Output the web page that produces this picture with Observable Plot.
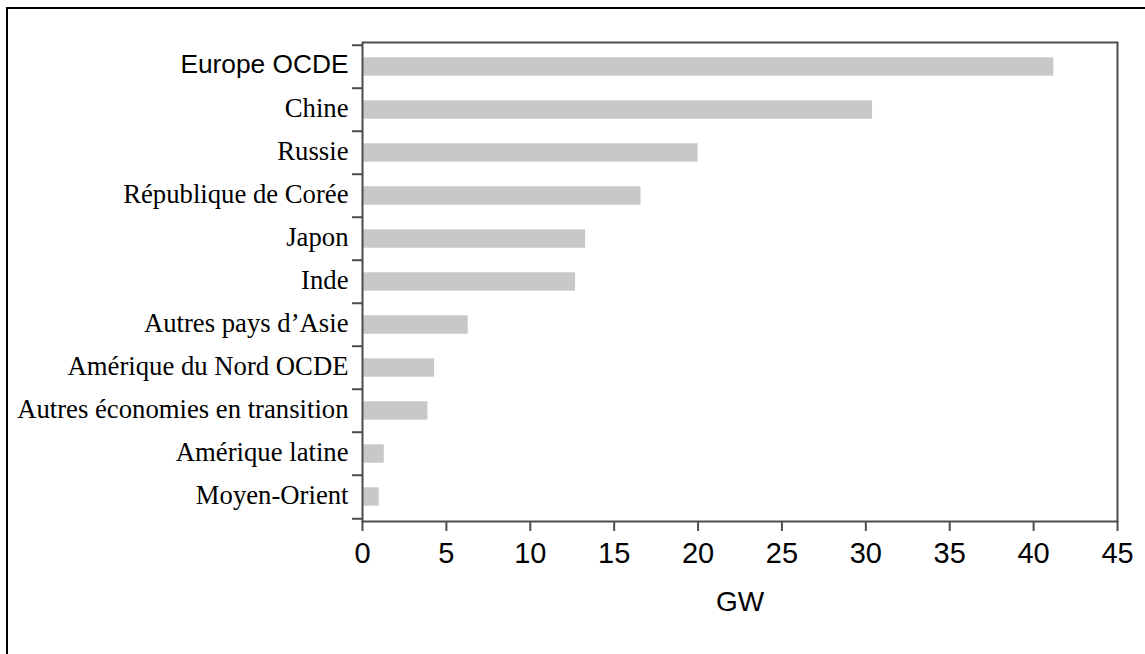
<!DOCTYPE html>
<html>
<head>
<meta charset="utf-8">
<script src="https://cdn.jsdelivr.net/npm/d3@7"></script>
<script src="https://cdn.jsdelivr.net/npm/@observablehq/plot@0.6"></script>
<style>
  html, body { margin: 0; padding: 0; background: #fff; }
  #wrap { position: relative; width: 1145px; height: 654px; overflow: hidden; }
  #chart { position: absolute; left: 0; top: 0; }
  #border { position: absolute; left: 6px; top: 7px; width: 1200px; height: 700px;
            border-left: 2px solid #000; border-top: 2px solid #000; pointer-events: none; }
</style>
</head>
<body>
<div id="wrap"><div id="chart"></div><div id="border"></div></div>
<script>
const categories = [
  "Europe OCDE", "Chine", "Russie", "République de Corée", "Japon", "Inde",
  "Autres pays d’Asie", "Amérique du Nord OCDE", "Autres économies en transition",
  "Amérique latine", "Moyen-Orient"
];
const values = [41.2, 30.4, 20.0, 16.6, 13.3, 12.7, 6.3, 4.3, 3.9, 1.3, 1.0];
const sansLabels = ["Europe OCDE"];
const xTicks = [0, 5, 10, 15, 20, 25, 30, 35, 40, 45];
const xLabel = "GW";

const data = categories.map((name, i) => ({name, value: values[i]}));

const W = 1145, H = 654, mT = 42, mB = 133, mL = 362, mR = 28;
const step = (H - mT - mB) / categories.length;
const axisColor = "#4d4d4d";
const sans = "'Liberation Sans', Arial, Helvetica, sans-serif";
const serif = "'Liberation Serif', 'Times New Roman', serif";

const chart = Plot.plot({
  width: W,
  height: H,
  marginTop: mT,
  marginBottom: mB,
  marginLeft: mL,
  marginRight: mR,
  style: {background: "none", fontFamily: sans, fontSize: "28px", color: "#000"},
  x: {domain: [0, 45], ticks: xTicks},
  y: {domain: categories, padding: 0, axis: null},
  marks: [
    Plot.barX(data, {x: "value", y: "name", fill: "#c8c8c8", insetTop: 12.3, insetBottom: 12.3, insetLeft: 1}),
    // boundary ticks on the left axis
    Plot.ruleY(categories, {y: d => d, dy: -step / 2, x1: 0, x2: 0, insetLeft: -10, stroke: axisColor, strokeWidth: 2}),
    Plot.ruleY([categories[categories.length - 1]], {y: d => d, dy: step / 2, x1: 0, x2: 0, insetLeft: -10, stroke: axisColor, strokeWidth: 2}),
    Plot.frame({stroke: axisColor, strokeWidth: 2}),
    Plot.axisX({ticks: xTicks, tickSize: 10, tickPadding: 11, stroke: axisColor, strokeWidth: 2, label: null,
      fontSize: 29, fontFamily: sans, fill: "#000", textStroke: "none"}),
    Plot.text(categories.filter(c => sansLabels.includes(c)), {
      y: d => d, text: d => d, frameAnchor: "left", dx: -14, dy: -2, textAnchor: "end",
      fontFamily: sans, fontSize: 26.3, fill: "#000"
    }),
    Plot.text(categories.filter(c => !sansLabels.includes(c)), {
      y: d => d, text: d => d, frameAnchor: "left", dx: -14, dy: -2, textAnchor: "end",
      fontFamily: serif, fontSize: 26.7, fill: "#000"
    }),
    Plot.text([xLabel], {text: d => d, frameAnchor: "bottom", dy: 70, lineAnchor: "top", fontFamily: sans, fontSize: 28, fill: "#000"})
  ]
});
document.getElementById("chart").appendChild(chart);
</script>
</body>
</html>
